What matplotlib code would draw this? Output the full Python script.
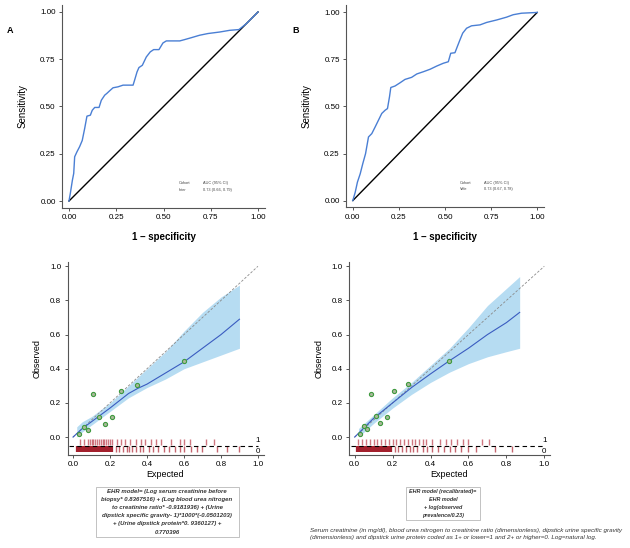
import matplotlib
matplotlib.use("Agg")
import matplotlib.pyplot as plt
from matplotlib.patches import Rectangle

plt.rcParams["font.family"] = ["Liberation Sans", "DejaVu Sans"]

# ---- datos ROC ----
roc_a_fpr = [0, 0.007, 0.018, 0.025, 0.03, 0.042, 0.056, 0.07, 0.083, 0.095, 0.113, 0.123,
             0.136, 0.159, 0.171, 0.189, 0.2, 0.215, 0.233, 0.259, 0.286, 0.339, 0.347,
             0.36, 0.37, 0.388, 0.409, 0.43, 0.448, 0.476, 0.497, 0.515, 0.586, 0.612,
             0.647, 0.691, 0.735, 0.797, 0.85, 0.899, 0.938, 1.0]
roc_a_tpr = [0, 0.04, 0.11, 0.146, 0.234, 0.26, 0.287, 0.32, 0.384, 0.449, 0.454, 0.48,
             0.495, 0.495, 0.533, 0.56, 0.569, 0.583, 0.599, 0.604, 0.613, 0.613, 0.639,
             0.683, 0.706, 0.718, 0.762, 0.789, 0.801, 0.801, 0.836, 0.847, 0.847, 0.854,
             0.864, 0.877, 0.886, 0.894, 0.903, 0.907, 0.938, 1.0]
roc_b_fpr = [0, 0.013, 0.025, 0.04, 0.054, 0.069, 0.085, 0.103, 0.121, 0.139, 0.157, 0.175,
             0.188, 0.199, 0.206, 0.229, 0.256, 0.283, 0.319, 0.347, 0.383, 0.419, 0.455,
             0.491, 0.518, 0.531, 0.554, 0.567, 0.581, 0.596, 0.617, 0.644, 0.69, 0.726,
             0.78, 0.834, 0.87, 0.915, 1.0]
roc_b_tpr = [0, 0.044, 0.098, 0.142, 0.196, 0.249, 0.338, 0.356, 0.391, 0.427, 0.463, 0.48,
             0.489, 0.552, 0.601, 0.609, 0.626, 0.644, 0.655, 0.673, 0.685, 0.698, 0.715,
             0.73, 0.738, 0.783, 0.786, 0.819, 0.854, 0.89, 0.916, 0.929, 0.934, 0.947,
             0.96, 0.975, 0.988, 0.996, 1.0]

cohortes = ["Inter", "Vale"]
auc_txt = ["0.73 (0.66, 0.79)", "0.73 (0.67, 0.78)"]

# ---- datos calibracion ----
grp_a_exp = [0.03, 0.06, 0.08, 0.108, 0.139, 0.173, 0.209, 0.261, 0.348, 0.60]
grp_a_obs = [0.018, 0.059, 0.04, 0.25, 0.117, 0.078, 0.117, 0.27, 0.307, 0.445]
grp_b_exp = [0.03, 0.05, 0.065, 0.088, 0.11, 0.136, 0.168, 0.206, 0.282, 0.497]
grp_b_obs = [0.02, 0.066, 0.045, 0.253, 0.126, 0.082, 0.12, 0.272, 0.311, 0.447]

curva_a_x = [0, 0.05, 0.1, 0.2, 0.3, 0.35, 0.4, 0.5, 0.6, 0.7, 0.8, 0.9]
curva_a_y = [0, 0.05, 0.09, 0.17, 0.255, 0.285, 0.31, 0.375, 0.44, 0.52, 0.6, 0.69]
curva_b_x = [0, 0.1, 0.2, 0.3, 0.4, 0.5, 0.6, 0.7, 0.8, 0.87]
curva_b_y = [0, 0.11, 0.2, 0.29, 0.37, 0.447, 0.52, 0.6, 0.67, 0.73]

banda_a_x = [0.02, 0.05, 0.1, 0.2, 0.3, 0.4, 0.5, 0.6, 0.7, 0.8, 0.9]
banda_a_lo = [0.0, 0.03, 0.07, 0.15, 0.23, 0.29, 0.34, 0.40, 0.44, 0.48, 0.52]
banda_a_hi = [0.06, 0.09, 0.12, 0.20, 0.30, 0.40, 0.50, 0.62, 0.73, 0.82, 0.89]
banda_b_x = [0.02, 0.1, 0.2, 0.3, 0.4, 0.5, 0.6, 0.7, 0.8, 0.87]
banda_b_lo = [0.0, 0.08, 0.17, 0.25, 0.32, 0.38, 0.43, 0.47, 0.50, 0.52]
banda_b_hi = [0.05, 0.13, 0.23, 0.32, 0.42, 0.52, 0.64, 0.77, 0.87, 0.94]

# rug: eventos (1) y no eventos (0)
ev_a = [0.04, 0.06, 0.08, 0.09, 0.10, 0.11, 0.12, 0.13, 0.14, 0.15, 0.16, 0.17, 0.18, 0.19,
        0.20, 0.21, 0.24, 0.26, 0.28, 0.31, 0.34, 0.37, 0.39, 0.42, 0.45, 0.475, 0.53, 0.58,
        0.60, 0.63, 0.72, 0.76]
noev_a_denso = [0.02, 0.03, 0.04, 0.05, 0.06, 0.07, 0.08, 0.09, 0.10, 0.11, 0.12, 0.13,
                0.14, 0.15, 0.16, 0.17, 0.18, 0.19, 0.20, 0.21]
noev_a = [0.23, 0.25, 0.27, 0.29, 0.30, 0.32, 0.34, 0.36, 0.38, 0.41, 0.43, 0.46, 0.49,
          0.52, 0.55, 0.58, 0.60, 0.64, 0.67, 0.70, 0.78, 0.83, 0.90]
ev_b = [0.02, 0.04, 0.06, 0.08, 0.10, 0.12, 0.14, 0.16, 0.18, 0.20, 0.22, 0.24, 0.26, 0.28,
        0.30, 0.32, 0.34, 0.36, 0.375, 0.41, 0.45, 0.48, 0.51, 0.54, 0.57, 0.60, 0.67, 0.71]
noev_b_denso = [0.01, 0.02, 0.03, 0.04, 0.05, 0.06, 0.07, 0.08, 0.09, 0.10, 0.11, 0.12,
                0.13, 0.14, 0.15, 0.16, 0.17, 0.18, 0.19]
noev_b = [0.21, 0.23, 0.25, 0.27, 0.29, 0.31, 0.33, 0.36, 0.38, 0.41, 0.44, 0.47, 0.50,
          0.53, 0.56, 0.60, 0.64, 0.74, 0.83]

caja_a = ["EHR model= (Log serum creatinine before",
          "biopsy* 0.8367516) + (Log blood urea nitrogen",
          "to creatinine ratio* -0.9181936) + (Urine",
          "dipstick specific gravity- 1)*1000*(-0.0501203)",
          "+ (Urine dipstick protein*0. 9360127) +",
          "0.770396"]
caja_b = ["EHR model (recalibrated)=",
          "EHR model",
          "+ log(observed",
          "prevalence/0.23)"]
nota = ("Serum creatinine (in mg/dl), blood urea nitrogen to creatinine ratio (dimensionless), "
        "dipstick urine specific gravity\n(dimensionless) and dipstick urine protein coded as "
        "1+ or lower=1 and 2+ or higher=0. Log=natural log.")

W, H = 630, 548
fig = plt.figure(figsize=(W / 100, H / 100), dpi=100)


def px_axes(x0, y0, x1, y1):
    return fig.add_axes([x0 / W, 1 - y1 / H, (x1 - x0) / W, (y1 - y0) / H])


def estilo(ax):
    for s in ["top", "right"]:
        ax.spines[s].set_visible(False)
    for s in ["left", "bottom"]:
        ax.spines[s].set_color("#555555")
        ax.spines[s].set_linewidth(0.8)
    ax.tick_params(length=2.5, width=0.7, color="#555555", labelsize=5.8, pad=2)


def grafico_roc(ax, fpr, tpr, cohorte, auc, letra):
    estilo(ax)
    ax.plot([0, 1], [0, 1], color="black", lw=1.0)
    ax.plot(fpr, tpr, color="#4a7fd4", lw=1.0)
    ax.set_xlim(-0.037, 1.037)
    ax.set_ylim(-0.037, 1.037)
    ax.set_xticks([0, 0.25, 0.5, 0.75, 1.0])
    ax.set_yticks([0, 0.25, 0.5, 0.75, 1.0])
    ax.set_xticklabels(["0.00", "0.25", "0.50", "0.75", "1.00"])
    ax.set_yticklabels(["0.00", "0.25", "0.50", "0.75", "1.00"])
    ax.set_xlabel("1 – specificity", fontsize=7, fontweight="bold", labelpad=8)
    ax.set_ylabel("Sensitivity", fontsize=7, labelpad=9)
    ax.text(0.58, 0.09, "Cohort", fontsize=2.8, color="#444444")
    ax.text(0.71, 0.09, "AUC (95% CI)", fontsize=2.8, color="#444444")
    ax.text(0.58, 0.055, cohorte, fontsize=2.8, color="#444444")
    ax.text(0.71, 0.055, auc, fontsize=2.8, color="#444444")
    ax.text(-0.33, 0.89, letra, fontsize=6.5, fontweight="bold")


def grafico_cal(ax, gx, gy, cx, cy, bx, blo, bhi, ev, noev_d, noev):
    estilo(ax)
    ax.fill_between(bx, blo, bhi, color="#aad6f0", alpha=0.85, lw=0)
    ax.plot([0, 1], [0, 1], color="#8a8a8a", lw=0.6, ls=(0, (3, 2)))
    ax.plot(cx, cy, color="#3a5cc0", lw=0.8)
    ax.scatter(gx, gy, s=9, facecolor="#a9b89a", edgecolor="#3f9a3f", linewidth=0.8, zorder=4)
    # rug
    ax.vlines(ev, -0.047, -0.012, color="#c04a56", lw=1.0, alpha=0.75)
    ax.vlines(noev_d, -0.088, -0.053, color="#a3202d", lw=1.6)
    ax.vlines(noev, -0.088, -0.053, color="#b8404c", lw=1.0, alpha=0.8)
    ax.plot([-0.02, 1.0], [-0.05, -0.05], color="black", lw=0.8, ls=(0, (4, 3)))
    ax.text(1.0, -0.022, "1", fontsize=5.8, ha="center", va="center")
    ax.text(1.0, -0.085, "0", fontsize=5.8, ha="center", va="center")
    ax.set_xlim(-0.03, 1.03)
    ax.set_ylim(-0.105, 1.025)
    ax.set_xticks([0, 0.2, 0.4, 0.6, 0.8, 1.0])
    ax.set_yticks([0, 0.2, 0.4, 0.6, 0.8, 1.0])
    ax.set_xticklabels(["0.0", "0.2", "0.4", "0.6", "0.8", "1.0"])
    ax.set_yticklabels(["0.0", "0.2", "0.4", "0.6", "0.8", "1.0"])
    ax.set_xlabel("Expected", fontsize=6.5, labelpad=1)
    ax.set_ylabel("Observed", fontsize=6.5, labelpad=6)


def caja_texto(lineas, xc, y0, x0, x1, y1, tam):
    paso = 8.2
    for i, l in enumerate(lineas):
        fig.text(xc / W, 1 - (y0 + i * paso) / H, l, fontsize=tam, style="italic",
                 fontweight="bold", ha="center", va="center", color="#333333")
    fig.patches.append(Rectangle((x0 / W, 1 - y1 / H), (x1 - x0) / W, (y1 - y0 + 4) / H,
                                 transform=fig.transFigure, fill=False,
                                 edgecolor="#aaaaaa", lw=0.5))


ax1 = px_axes(62, 5, 265, 208)
grafico_roc(ax1, roc_a_fpr, roc_a_tpr, cohortes[0], auc_txt[0], "A")
ax2 = px_axes(346, 5.5, 544, 207.5)
grafico_roc(ax2, roc_b_fpr, roc_b_tpr, cohortes[1], auc_txt[1], "B")

ax3 = px_axes(67.5, 262, 263.5, 455)
grafico_cal(ax3, grp_a_exp, grp_a_obs, curva_a_x, curva_a_y, banda_a_x, banda_a_lo,
            banda_a_hi, ev_a, noev_a_denso, noev_a)
ax4 = px_axes(349, 262, 550, 455)
grafico_cal(ax4, grp_b_exp, grp_b_obs, curva_b_x, curva_b_y, banda_b_x, banda_b_lo,
            banda_b_hi, ev_b, noev_b_denso, noev_b)

caja_texto(caja_a, 167, 491, 96, 239, 537, 4.3)
caja_texto(caja_b, 443, 491, 406, 480, 520, 3.9)

fig.text(310 / W, 1 - 534 / H, nota, fontsize=4.5, style="italic", ha="left", va="center",
         color="#333333", linespacing=1.5)

fig.savefig("out.png", dpi=100)
